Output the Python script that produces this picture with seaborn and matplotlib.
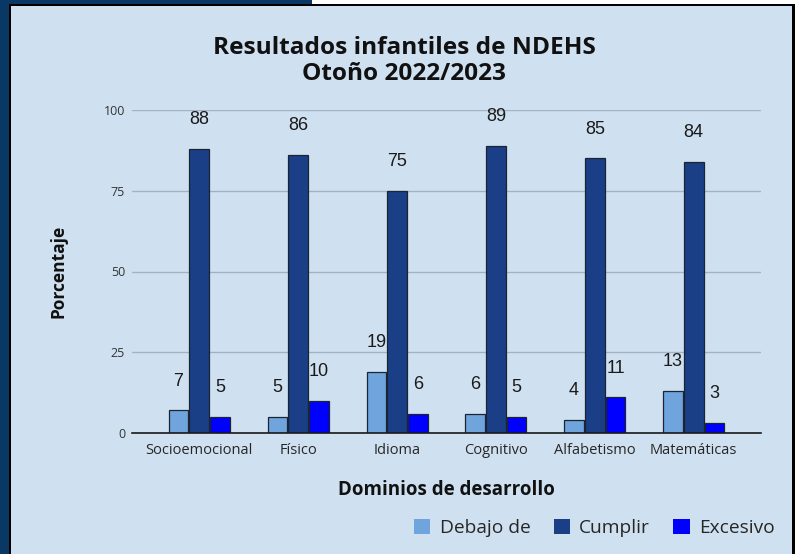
import matplotlib
matplotlib.use("Agg")
import matplotlib.pyplot as plt
from matplotlib.patches import Rectangle, Patch
import seaborn as sns
import pandas as pd

categories = ["Socioemocional", "Físico", "Idioma", "Cognitivo", "Alfabetismo", "Matemáticas"]
series_names = ["Debajo de", "Cumplir", "Excesivo"]
debajo = [7, 5, 19, 6, 4, 13]
cumplir = [88, 86, 75, 89, 85, 84]
excesivo = [5, 10, 6, 5, 11, 3]
yticks = [0, 25, 50, 75, 100]

colors = ["#6fa5dc", "#1a3f86", "#0000ff"]
bg = "#cfe1f0"

rows = []
for name, vals in zip(series_names, [debajo, cumplir, excesivo]):
    for c, v in zip(categories, vals):
        rows.append({"Dominio": c, "Serie": name, "Valor": v})
df = pd.DataFrame(rows)

sns.set_style("white")
W, H = 799, 554
fig = plt.figure(figsize=(W / 100, H / 100), dpi=100, facecolor=bg)

def px_rect(x0, y0top, w, h, color):
    fig.patches.append(Rectangle((x0 / W, 1 - (y0top + h) / H), w / W, h / H,
                                 transform=fig.transFigure, facecolor=color,
                                 edgecolor="none", zorder=-1))

px_rect(0, 0, 9, H, "#0a3864")
px_rect(0, 0, 312, 4, "#0a3864")
px_rect(312, 0, W - 312, 4, "white")
px_rect(795, 0, 4, H, "white")
px_rect(9, 4, 786, 2, "black")
px_rect(9, 4, 2, H - 4, "black")
px_rect(792, 4, 3, H - 4, "black")

ax = fig.add_axes([132 / W, (H - 433) / H, 629 / W, 323 / H])
ax.set_facecolor(bg)

sns.barplot(data=df, x="Dominio", y="Valor", hue="Serie", order=categories,
            hue_order=series_names, palette=colors, saturation=1, width=0.63, gap=0.06,
            edgecolor="#1c2333", linewidth=0.9, ax=ax, legend=False, zorder=3)

for cont in ax.containers:
    ax.bar_label(cont, labels=[f"{int(v)}" for v in cont.datavalues], padding=15,
                 fontsize=13, color="#1a1a1a", family="Liberation Sans")

ax.set_xlim(-0.68, 5.68)
ax.set_ylim(0, 100)
ax.set_yticks(yticks)
ax.grid(axis="y", color="#a3b1c2", linewidth=1, zorder=0)
ax.set_axisbelow(True)
for s in ["top", "right", "left"]:
    ax.spines[s].set_visible(False)
ax.spines["bottom"].set_color("#1a1a1a")
ax.spines["bottom"].set_linewidth(1.2)
ax.spines["bottom"].set_zorder(4)
ax.tick_params(axis="y", length=0, pad=5, labelsize=9, labelcolor="#333333")
ax.tick_params(axis="x", length=0, pad=7, labelsize=10.5, labelcolor="#262626")
for lab in ax.get_xticklabels() + ax.get_yticklabels():
    lab.set_family("Open Sans")

ax.set_xlabel("Dominios de desarrollo", fontsize=13.5, fontweight="bold",
              family="Open Sans", labelpad=16, color="#111111")
ax.set_ylabel("Porcentaje", fontsize=12.5, fontweight="bold", family="Open Sans",
              labelpad=26, color="#111111")

fig.text(404 / W, 1 - 61 / H, "Resultados infantiles de NDEHS\nOtoño 2022/2023",
         ha="center", va="center", fontsize=17.6, fontweight="bold",
         family="Open Sans", color="#111111", linespacing=1.12)

handles = [Patch(facecolor=c, edgecolor="none") for c in colors]
fig.legend(handles, series_names, loc="center right", bbox_to_anchor=(792 / W, 1 - 528 / H),
           ncol=3, frameon=False, handlelength=0.85, handleheight=0.85,
           handletextpad=0.5, columnspacing=1.2, prop={"family": "Open Sans", "size": 13.8})

fig.savefig("out.png", dpi=100, facecolor=bg)
